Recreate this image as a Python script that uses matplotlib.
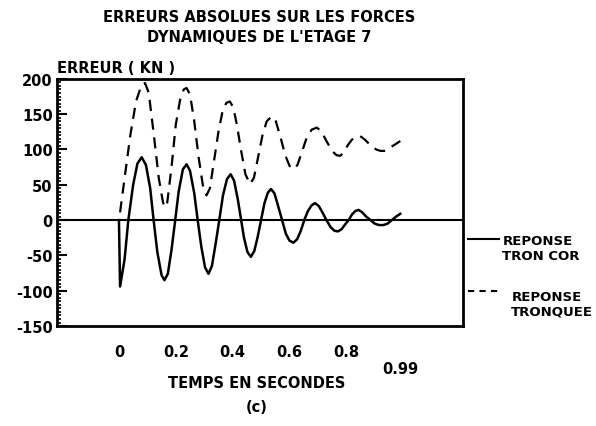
import numpy as np
import matplotlib.pyplot as plt
from matplotlib.lines import Line2D
import matplotlib.transforms as mtransforms

t_cor = [0.0, 0.004, 0.02, 0.033, 0.05, 0.065, 0.08, 0.095, 0.11, 0.122,
         0.135, 0.15, 0.16, 0.172, 0.185, 0.198, 0.21, 0.225, 0.238, 0.25,
         0.265, 0.277, 0.29, 0.303, 0.315, 0.327, 0.34, 0.353, 0.366, 0.38,
         0.393, 0.405, 0.418, 0.43, 0.44, 0.452, 0.464, 0.476, 0.488, 0.5,
         0.512, 0.524, 0.535, 0.547, 0.56, 0.574, 0.587, 0.6, 0.614, 0.627,
         0.64, 0.652, 0.665, 0.678, 0.69, 0.703, 0.716, 0.73, 0.745, 0.758,
         0.77, 0.783, 0.796, 0.808, 0.82, 0.832, 0.843, 0.856, 0.87, 0.885,
         0.9, 0.915, 0.93, 0.945, 0.96, 0.975, 0.99]
err_cor = [0, -94, -55, 0, 50, 80, 89, 78, 45, 0,
           -45, -78, -85, -76, -42, 0, 40, 72, 79, 70,
           38, 0, -38, -67, -76, -65, -34, 0, 35, 58,
           65, 56, 30, 0, -25, -45, -52, -44, -24, 0,
           24, 39, 44, 38, 20, 0, -19, -29, -32, -27,
           -15, 0, 13, 21, 24, 20, 11, 0, -10, -15,
           -16, -13, -6, 0, 8, 13, 14.5, 11, 5, 0,
           -5, -7, -7, -5, 0, 5, 9]

t_tronq = [0.004, 0.02, 0.04, 0.06, 0.08, 0.092, 0.105, 0.12, 0.14, 0.155,
           0.162, 0.17, 0.185, 0.2, 0.215, 0.228, 0.238, 0.25, 0.265, 0.28,
           0.295, 0.308, 0.32, 0.335, 0.35, 0.365, 0.378, 0.39, 0.402, 0.415,
           0.43, 0.445, 0.461, 0.475, 0.49, 0.505, 0.52, 0.538, 0.552, 0.568,
           0.585, 0.6, 0.614, 0.628, 0.645, 0.66, 0.678, 0.696, 0.712, 0.73,
           0.75, 0.765, 0.778, 0.79, 0.805, 0.82, 0.835, 0.849, 0.865, 0.885,
           0.905, 0.92, 0.937, 0.955, 0.975, 0.99]
err_tronq = [11, 60, 120, 168, 192, 194, 180, 130, 60, 25,
             18, 25, 75, 135, 170, 185, 187, 178, 140, 90,
             50, 35, 45, 85, 125, 155, 166, 168, 160, 135,
             98, 65, 51, 60, 90, 120, 140, 147, 140, 118,
             92, 77, 72, 78, 98, 116, 128, 131, 126, 112,
             98, 92, 91, 95, 106, 114, 118, 119, 114, 106,
             100, 98, 98, 103, 108, 112]

xticks = [0, 0.2, 0.4, 0.6, 0.8]

plt.rcParams['font.family'] = 'DejaVu Sans'
plt.rcParams['font.weight'] = 'bold'
plt.rcParams['axes.unicode_minus'] = False

fig = plt.figure(figsize=(5.96, 4.27), dpi=100)
ax = fig.add_axes([0.0956, 0.234, 0.681, 0.579])

ax.axhline(0, color='black', lw=1.5)
ax.plot(t_cor, err_cor, color='black', lw=1.8)
ax.plot(t_tronq, err_tronq, color='black', lw=1.6, dashes=(5, 3.5))

ax.set_xlim(-0.218, 1.21)
ax.set_ylim(-150, 200)
ax.set_yticks(np.arange(-150, 201, 50))
ax.set_yticks(np.arange(-150, 201, 5), minor=True)
ax.tick_params(axis='y', which='major', direction='in', length=7, width=1.5,
               labelsize=10.5, pad=3)
ax.tick_params(axis='y', which='minor', direction='in', length=3, width=1.2)
ax.set_xticks(xticks)
ax.set_xticklabels(['0', '0.2', '0.4', '0.6', '0.8'])
ax.tick_params(axis='x', length=0, labelsize=10.5, pad=13)
for sp in ax.spines.values():
    sp.set_linewidth(2)

trans = mtransforms.blended_transform_factory(ax.transData, ax.transAxes)
ax.text(0.99, -0.17, '0.99', transform=trans, ha='center', va='center', fontsize=10.5)

ax.text(0.0, 1.015, 'ERREUR ( KN )', transform=ax.transAxes, ha='left',
        va='bottom', fontsize=10.5)
fig.text(0.435, 0.96, 'ERREURS ABSOLUES SUR LES FORCES', ha='center', va='center', fontsize=10.5)
fig.text(0.435, 0.913, "DYNAMIQUES DE L'ETAGE 7", ha='center', va='center', fontsize=10.5)
fig.text(0.43, 0.103, 'TEMPS EN SECONDES', ha='center', va='center', fontsize=10.5)
fig.text(0.43, 0.045, '(c)', ha='center', va='center', fontsize=10.5)

# legend at the right
fig.add_artist(Line2D([0.785, 0.838], [0.438, 0.438], color='black', lw=1.5))
fig.text(0.843, 0.417, 'REPONSE\nTRON COR', ha='left', va='center',
         fontsize=9.5, linespacing=1.15)
fig.add_artist(Line2D([0.785, 0.842], [0.316, 0.316], color='black', lw=1.5,
                      dashes=(3, 2.5)))
fig.text(0.858, 0.286, 'REPONSE\nTRONQUEE', ha='left', va='center',
         fontsize=9.5, linespacing=1.15)

fig.savefig('out.png', dpi=100)
